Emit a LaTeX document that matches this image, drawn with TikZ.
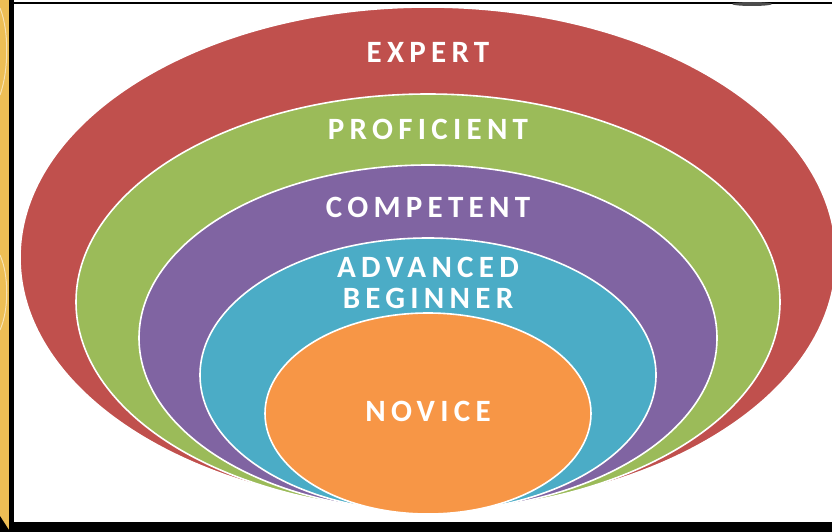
\documentclass[tikz,border=0pt]{standalone}
\usepackage{fontspec}
\setmainfont{Carlito}
\definecolor{expertred}{HTML}{C0504D}
\definecolor{proficientgreen}{HTML}{9BBB59}
\definecolor{competentpurple}{HTML}{8064A2}
\definecolor{advancedblue}{HTML}{4BACC6}
\definecolor{noviceorange}{HTML}{F79646}
\definecolor{frameyellow}{HTML}{EDBE55}
\tikzset{
  band/.style={fill=#1, draw=white, line width=1.6pt},
  ringlabel/.style={text=white, inner sep=0pt, text height=19pt, text depth=0pt,
    font=\fontsize{31}{30}\selectfont\addfontfeature{LetterSpace=17}\bfseries}
}
\begin{document}
\begin{tikzpicture}[x=1pt, y=-1pt]
        % Frame
        \useasboundingbox (0,0) rectangle (832,532);
        \fill[white] (0,0) rectangle (832,532);
        \fill[frameyellow] (0,0) rectangle (9,532);
        \draw[white!55!frameyellow, line width=1pt] (0,8) .. controls (9,30) and (9,70) .. (0,95);
        \draw[white!55!frameyellow, line width=1pt] (0,255) .. controls (9,275) and (9,310) .. (0,330);
        \fill[black] (0,516) -- (9,530) -- (9,532) -- (0,532) -- cycle;
        \fill[black] (9,0) rectangle (14,532);
        \fill[black] (9,522) rectangle (832,532);
        \fill[black] (14,2) rectangle (832,4);
        \fill[black!70] (752,4) ellipse [x radius=20, y radius=2];

        % Nested rings
        \begin{scope}
            \clip (15,5) rectangle (832,521);
            \foreach \cx/\cy/\rx/\ry/\col in {428/257.5/408/250.5/expertred,
                    428/302/352/208/proficientgreen,
                    428/338/289/173/competentpurple,
                    428/375/228/137/advancedblue,
                    428/413.5/163/100.5/noviceorange} {
                \filldraw[band=\col] (\cx,\cy) ellipse [x radius=\rx, y radius=\ry];
            }
        \end{scope}

        % Stage names
        \node[ringlabel] (expert) at (428,53) {EXPERT};
        \node[ringlabel] (proficient) at (428,130) {PROFICIENT};
        \node[ringlabel] (competent) at (428,208) {COMPETENT};
        \node[ringlabel] (advanced) at (428,268) {ADVANCED};
        \node[ringlabel] (beginner) at (428,299) {BEGINNER};
        \node[ringlabel] (novice) at (428,412) {NOVICE};
\end{tikzpicture}
\end{document}
